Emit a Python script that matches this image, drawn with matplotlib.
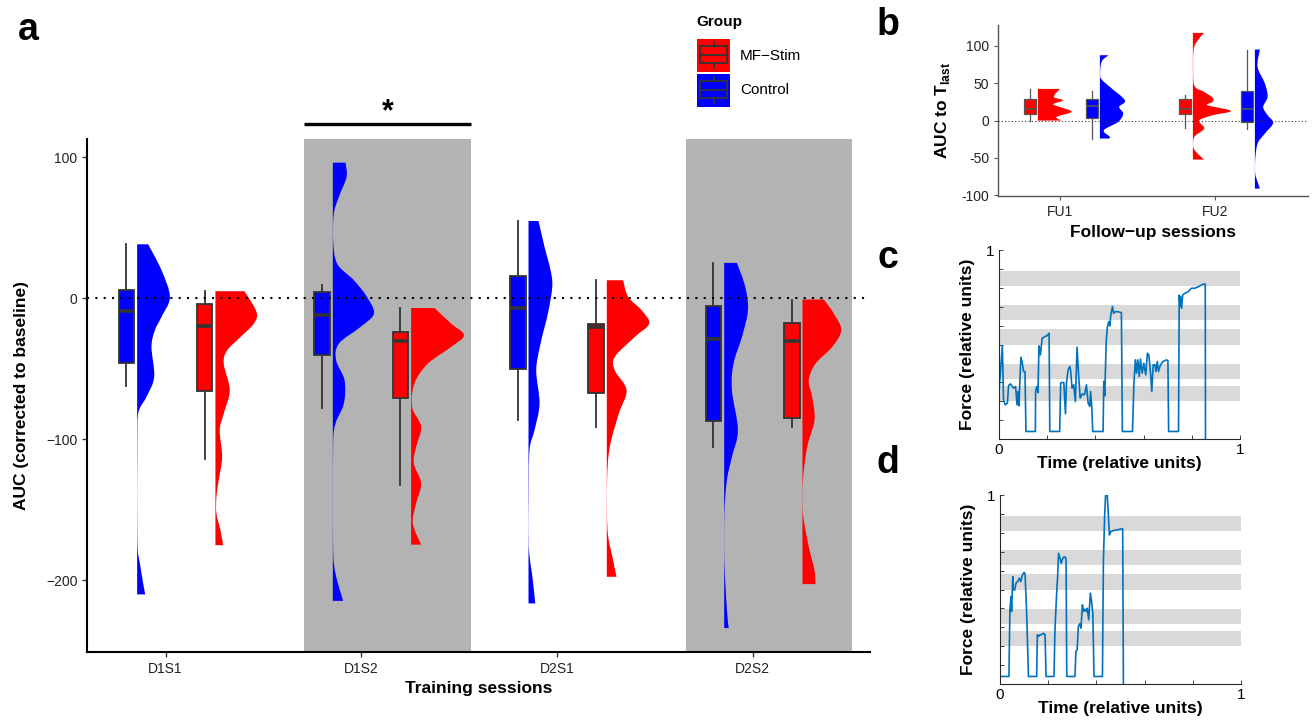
import numpy as np
import matplotlib
matplotlib.use('Agg')
import matplotlib.pyplot as plt
from matplotlib.patches import Rectangle, PathPatch
from matplotlib.path import Path

plt.rcParams['font.family'] = ['Liberation Sans', 'DejaVu Sans']
plt.rcParams['mathtext.fontset'] = 'custom'
plt.rcParams['mathtext.rm'] = 'Liberation Sans'
plt.rcParams['mathtext.bf'] = 'Liberation Sans:bold'

RED = '#ff0000'
BLUE = '#0000ff'
EDGE = '#333333'
SHADE = '#b3b3b3'
BAND = '#d9d9d9'
TRACE = '#0072bd'

# ---------------- panel a: training sessions ----------------
sessions = ['D1S1', 'D1S2', 'D2S1', 'D2S2']
shaded_sessions = ['D1S2', 'D2S2']

# box stats per session: whisker low, q1, median, q3, whisker high
ctrl_box = [[-62.4, -45.6, -9.0, 6.1, 38.3],
            [-77.5, -40.0, -12.0, 4.5, 9.2],
            [-86.5, -49.9, -6.6, 15.8, 54.8],
            [-105.4, -87.2, -28.6, -5.4, 25.1]]
stim_box = [[-113.7, -66.0, -19.4, -3.8, 5.0],
            [-132.2, -70.7, -30.3, -23.9, -6.9],
            [-91.2, -66.9, -20.3, -18.4, 12.8],
            [-91.2, -84.9, -30.3, -17.5, -0.9]]

# half-violin outlines: AUC value and density
ctrl_vy = [[38.3, 19.9, 0.9, -13.2, -22.7, -34.5, -55.8, -70.0, -81.8, -105.4, -171.6, -188.1, -210.1],
           [96.2, 86.0, 71.9, 60.1, 41.2, 24.6, 12.8, 1.0, -10.9, -20.3, -32.2, -44.0, -58.2, -74.7,
            -88.9, -105.4, -176.4, -195.3, -214.7],
           [54.8, 36.4, 19.9, 8.1, -10.9, -32.2, -51.1, -74.7, -93.6, -107.8, -140.9, -176.4, -200.0, -216.5],
           [25.1, 8.1, -8.5, -27.4, -46.3, -65.2, -93.6, -112.5, -129.0, -152.7, -188.1, -221.0, -234.0]]
ctrl_vd = [[11, 24.3, 32.7, 24.3, 17.7, 14.3, 17, 9.3, 1, 0.3, 0.3, 2.7, 8],
           [12.7, 13.7, 6, 1, 0.3, 4.3, 21, 34, 41, 27.7, 6, 3.3, 11.7, 11, 2.7, 0.3, 0.3, 2.7, 10.3],
           [10, 16, 22, 23.7, 19.3, 12, 7.7, 11, 6, 1, 0.3, 0.3, 4.3, 6.7],
           [12.7, 21, 23.7, 17.7, 9.3, 7.7, 13.7, 7.7, 2.7, 0.3, 0.3, 2.7, 4.5]]
stim_vy = [[5.0, -9.7, -18.0, -27.5, -37.0, -46.4, -65.2, -81.8, -93.6, -112.5, -129.0, -140.9, -152.7,
            -164.5, -175.2],
           [-6.9, -18.0, -26.2, -34.5, -46.4, -60.5, -77.1, -91.2, -105.4, -117.2, -131.4, -145.5, -159.7, -174.8],
           [12.8, 1.0, -8.5, -18.0, -27.4, -41.6, -51.1, -65.2, -81.8, -105.4, -129.0, -164.5, -185.8, -197.6],
           [-0.9, -10.9, -22.7, -34.5, -46.4, -58.2, -70.0, -86.5, -105.4, -129.0, -152.7, -176.4, -192.9, -202.8]]
stim_vd = [[29, 41, 38.3, 25, 11.7, 8.3, 14.3, 8.3, 4.3, 6.7, 3.3, 1, 1, 5, 7.7],
           [23.3, 40, 52.7, 40, 16.7, 3.3, 1, 10, 5, 2.7, 10, 5, 1.7, 10],
           [16.3, 21.3, 34.7, 42.3, 28, 8, 8, 19.7, 12, 3, 0.3, 0.7, 6.3, 9.7],
           [21.3, 31.3, 38.7, 29.7, 13, 6.3, 9.7, 12, 4.7, 0.5, 0.5, 6.3, 12, 13]]

# ---------------- panel b: follow-up sessions ----------------
followups = ['FU1', 'FU2']
fu_stim_box = [[0.0, 9.4, 15.2, 28.6, 42.4],
               [-9.4, 8.5, 15.2, 28.6, 33.9]]
fu_ctrl_box = [[-24.1, 4.0, 19.2, 28.6, 39.7],
               [-11.6, -1.3, 15.2, 39.3, 95.1]]
fu_stim_vy = [[42.4, 31.7, 27.2, 21.9, 17.4, 11.6, 4.9, 0.0],
              [117.4, 109.8, 94.2, 49.6, 38.4, 30.8, 25.0, 20.5, 12.9, 7.1, 0.0, -10.7, -21.9, -35.3,
               -44.2, -52.2]]
fu_stim_vd = [[22, 16, 25.3, 15.3, 23.7, 33.7, 18.7, 23.7],
              [11.3, 6.3, 0.7, 0.7, 11.3, 19.7, 19.7, 14.7, 38, 19.7, 6.3, 11.3, 1.3, 0.3, 4.7, 11.3]]
fu_ctrl_vy = [[87.5, 78.6, 58.5, 45.1, 27.2, 18.3, 9.4, -1.8, -12.9, -21.9, -24.1],
              [95.1, 71.9, 49.6, 31.7, 18.3, 7.1, -3.1, -17.4, -30.8, -53.1, -71.0, -82.1, -91.1]]
fu_ctrl_vd = [[8.7, 1.7, 0.3, 10, 25, 19.3, 23.3, 18.3, 4, 10, 8.7],
              [5, 2.7, 10, 12.7, 8.3, 12.7, 18.3, 10, 2.7, 0.3, 0.3, 2.7, 5]]

# ---------------- panels c, d: example force traces ----------------
target_lo = [0.199, 0.320, 0.500, 0.630, 0.812]
target_hi = [0.282, 0.398, 0.581, 0.710, 0.889]

c_time = [0, 0.014, 0.019, 0.026, 0.035, 0.040, 0.048, 0.055, 0.061, 0.069, 0.075, 0.079, 0.083, 0.087,
          0.091, 0.097, 0.102, 0.108, 0.112, 0.151, 0.152, 0.157, 0.162, 0.166, 0.172, 0.179, 0.190,
          0.199, 0.208, 0.211, 0.252, 0.256, 0.260, 0.269, 0.276, 0.280, 0.287, 0.294, 0.298, 0.303,
          0.310, 0.317, 0.324, 0.330, 0.337, 0.346, 0.355, 0.363, 0.370, 0.377, 0.380, 0.385, 0.389,
          0.432, 0.435, 0.439, 0.445, 0.450, 0.456, 0.460, 0.464, 0.471, 0.476, 0.483, 0.492, 0.508,
          0.512, 0.554, 0.560, 0.566, 0.571, 0.576, 0.582, 0.587, 0.594, 0.601, 0.609, 0.616, 0.622,
          0.629, 0.634, 0.640, 0.647, 0.651, 0.657, 0.662, 0.668, 0.675, 0.681, 0.695, 0.701, 0.704,
          0.745, 0.748, 0.751, 0.753, 0.758, 0.762, 0.771, 0.785, 0.799, 0.813, 0.827, 0.848, 0.856, 0.857]
c_force = [0.246, 0.493, 0.208, 0.181, 0.190, 0.283, 0.292, 0.278, 0.269, 0.278, 0.181, 0.252, 0.176, 0.313,
           0.433, 0.401, 0.357, 0.357, 0.040, 0.040, 0.252, 0.278, 0.246, 0.493, 0.445, 0.533, 0.542,
           0.546, 0.560, 0.040, 0.040, 0.296, 0.299, 0.299, 0.134, 0.296, 0.366, 0.384, 0.357, 0.269,
           0.287, 0.199, 0.486, 0.349, 0.217, 0.239, 0.234, 0.287, 0.190, 0.173, 0.252, 0.173, 0.040,
           0.040, 0.305, 0.229, 0.516, 0.595, 0.621, 0.599, 0.657, 0.701, 0.665, 0.674, 0.674, 0.669,
           0.040, 0.040, 0.296, 0.419, 0.349, 0.419, 0.331, 0.423, 0.349, 0.401, 0.340, 0.454, 0.445,
           0.349, 0.252, 0.393, 0.393, 0.357, 0.410, 0.357, 0.384, 0.401, 0.410, 0.419, 0.415, 0.040,
           0.040, 0.762, 0.701, 0.754, 0.692, 0.762, 0.771, 0.780, 0.798, 0.798, 0.806, 0.820, 0.820, 0.0]

d_time = [0, 0.037, 0.041, 0.046, 0.048, 0.053, 0.055, 0.061, 0.066, 0.073, 0.080, 0.086, 0.093, 0.097,
          0.100, 0.104, 0.111, 0.118, 0.152, 0.155, 0.160, 0.166, 0.173, 0.180, 0.187, 0.191, 0.224,
          0.228, 0.235, 0.239, 0.243, 0.249, 0.254, 0.260, 0.267, 0.274, 0.277, 0.311, 0.315, 0.320,
          0.325, 0.331, 0.336, 0.342, 0.346, 0.351, 0.357, 0.362, 0.368, 0.375, 0.380, 0.385, 0.390,
          0.425, 0.429, 0.434, 0.438, 0.445, 0.450, 0.454, 0.459, 0.470, 0.484, 0.498, 0.509, 0.512]
d_force = [0.040, 0.040, 0.393, 0.463, 0.384, 0.569, 0.498, 0.498, 0.533, 0.542, 0.560, 0.542, 0.577, 0.586,
           0.590, 0.583, 0.357, 0.040, 0.040, 0.261, 0.252, 0.261, 0.261, 0.269, 0.261, 0.040, 0.040,
           0.287, 0.481, 0.569, 0.692, 0.665, 0.639, 0.665, 0.674, 0.665, 0.040, 0.040, 0.173, 0.181,
           0.305, 0.319, 0.296, 0.419, 0.384, 0.396, 0.384, 0.401, 0.340, 0.481, 0.437, 0.375, 0.040,
           0.040, 0.648, 0.886, 1.0, 1.0, 0.886, 0.789, 0.806, 0.812, 0.815, 0.819, 0.822, 0.0]


def half_violin(ax, x0, vy, vd, dscale, color):
    # right edge drawn as a smooth curve (Catmull-Rom as Bezier) through the read knots
    pts = np.column_stack([x0 + np.array(vd) * dscale, np.array(vy, dtype=float)])
    ext = np.vstack([pts[0], pts, pts[-1]])
    verts = [(x0, pts[0, 1]), tuple(pts[0])]
    codes = [Path.MOVETO, Path.LINETO]
    for k in range(len(pts) - 1):
        p0, p1, p2, p3 = ext[k], ext[k + 1], ext[k + 2], ext[k + 3]
        c1 = p1 + (p2 - p0) / 6.0
        c2 = p2 - (p3 - p1) / 6.0
        c1[0] = max(c1[0], x0)
        c2[0] = max(c2[0], x0)
        verts += [tuple(c1), tuple(c2), tuple(p2)]
        codes += [Path.CURVE4] * 3
    verts += [(x0, pts[-1, 1]), (x0, pts[0, 1])]
    codes += [Path.LINETO, Path.CLOSEPOLY]
    ax.add_patch(PathPatch(Path(verts, codes), facecolor=color, edgecolor='none', zorder=3))


def raincloud(ax, pos, box, vy, vd, color, box_w, gap, dscale, edge, lw, med_lw):
    stats = [dict(whislo=box[0], q1=box[1], med=box[2], q3=box[3], whishi=box[4])]
    ax.bxp(stats, positions=[pos], widths=box_w, patch_artist=True, showcaps=False,
           showfliers=False, manage_ticks=False,
           boxprops=dict(facecolor=color, edgecolor=edge, linewidth=lw),
           whiskerprops=dict(color=edge, linewidth=lw),
           medianprops=dict(color=edge, linewidth=med_lw), zorder=3)
    half_violin(ax, pos + gap, vy, vd, dscale, color)


fig = plt.figure(figsize=(13.12, 7.24), dpi=100)

# ---- a ----
ax = fig.add_axes([0.0665, 0.0994, 0.5966, 0.7086])
xs = np.arange(1, len(sessions) + 1)
shade_offsets = {'D1S2': (-0.29, 0.56), 'D2S2': (-0.34, 0.51)}
for s in shaded_sessions:
    i = sessions.index(s) + 1
    lo, hi = shade_offsets[s]
    ax.axvspan(i + lo, i + hi, color=SHADE, lw=0, zorder=0)
for i, x in enumerate(xs):
    raincloud(ax, x - 0.2, ctrl_box[i], ctrl_vy[i], ctrl_vd[i], BLUE, 0.08, 0.055, 1 / 195.3, EDGE, 1.3, 2.6)
    raincloud(ax, x + 0.2, stim_box[i], stim_vy[i], stim_vd[i], RED, 0.08, 0.055, 1 / 195.3, EDGE, 1.3, 2.6)
ax.axhline(0, color='black', lw=1.5, ls=(0, (1, 3)), zorder=5)
ax.set_xlim(0.6, 4.6)
ax.set_ylim(-251, 113)
ax.set_xticks(xs)
ax.set_xticklabels(sessions)
ax.set_yticks([100, 0, -100, -200])
for sp in ['top', 'right']:
    ax.spines[sp].set_visible(False)
for sp in ['left', 'bottom']:
    ax.spines[sp].set_linewidth(1.5)
ax.tick_params(labelsize=10, length=3.5, width=1, color=EDGE, labelcolor='#222222')
ax.set_ylabel('AUC (corrected to baseline)', fontsize=12.5, fontweight='bold')
ax.set_xlabel('Training sessions', fontsize=12.5, fontweight='bold')
ax.yaxis.set_label_coords(-0.075, 0.5)
ax.xaxis.set_label_coords(0.5, -0.056)
# significance bar over D1S2
ax.plot([1.71, 2.56], [123.5, 123.5], color='black', lw=2.4, clip_on=False, solid_capstyle='butt')
ax.text(2.135, 126.5, '*', ha='center', va='baseline', fontsize=22, fontweight='bold', clip_on=False)

# ---- b ----
bx = fig.add_axes([0.7607, 0.7293, 0.2363, 0.2362])
fx = np.arange(1, len(followups) + 1)
for i, x in enumerate(fx):
    raincloud(bx, x - 0.195, fu_stim_box[i], fu_stim_vy[i], fu_stim_vd[i], RED, 0.077, 0.052, 1 / 155,
              '#555555', 0.9, 1.2)
    raincloud(bx, x + 0.205, fu_ctrl_box[i], fu_ctrl_vy[i], fu_ctrl_vd[i], BLUE, 0.077, 0.052, 1 / 155,
              '#555555', 0.9, 1.2)
bx.axhline(0, color='#333333', lw=0.8, ls=(0, (1, 2)), zorder=5)
bx.set_xlim(0.6, 2.6)
bx.set_ylim(-101, 128)
bx.set_xticks(fx)
bx.set_xticklabels(followups)
bx.set_yticks([100, 50, 0, -50, -100])
bx.set_yticklabels(['100', '50', '0', '-50', '-100'])
for sp in ['top', 'right']:
    bx.spines[sp].set_visible(False)
for sp in ['left', 'bottom']:
    bx.spines[sp].set_color('#555555')
    bx.spines[sp].set_linewidth(1.0)
bx.tick_params(labelsize=10, length=3, color='#555555', labelcolor='#222222')
bx.set_ylabel(r'AUC to T$_{\mathbf{last}}$', fontsize=12.5, fontweight='bold')
bx.set_xlabel('Follow\u2212up sessions', fontsize=12.5, fontweight='bold')
bx.yaxis.set_label_coords(-0.15, 0.5)
bx.xaxis.set_label_coords(0.5, -0.17)


# ---- c, d ----
def force_panel(rect, t, f):
    cx = fig.add_axes(rect)
    for lo, hi in zip(target_lo, target_hi):
        cx.axhspan(lo, hi, color=BAND, lw=0, zorder=0)
    cx.plot(t, f, color=TRACE, lw=1.2, zorder=2)
    cx.set_xlim(0, 1)
    cx.set_ylim(0, 1)
    cx.set_xticks(np.arange(0, 1.01, 0.2))
    cx.set_xticklabels(['0', '', '', '', '', '1'])
    cx.set_yticks(np.arange(0, 1.01, 0.1))
    cx.set_yticklabels([''] * 10 + ['1'])
    for sp in ['top', 'right']:
        cx.spines[sp].set_visible(False)
    for sp in ['left', 'bottom']:
        cx.spines[sp].set_color('#262626')
        cx.spines[sp].set_linewidth(0.8)
    cx.tick_params(direction='in', length=3, width=0.6, color='#262626', labelsize=11, pad=3)
    cx.set_ylabel('Force (relative units)', fontsize=12.5, fontweight='bold')
    cx.set_xlabel('Time (relative units)', fontsize=12.5, fontweight='bold')
    cx.yaxis.set_label_coords(-0.10, 0.5)
    cx.xaxis.set_label_coords(0.5, -0.09)
    return cx


force_panel([0.7614, 0.3936, 0.1837, 0.261], c_time, c_force)
force_panel([0.7622, 0.0552, 0.1837, 0.261], d_time, d_force)

# ---- overlay: panel letters and group legend (pixel coordinates) ----
ov = fig.add_axes([0, 0, 1, 1], zorder=10)
ov.set_xlim(0, 1312)
ov.set_ylim(724, 0)
ov.axis('off')
ov.patch.set_alpha(0)
for letter, (px, py) in zip('abcd', [(28, 30), (888, 25), (888, 258), (888, 463)]):
    ov.text(px, py, letter, fontsize=27, fontweight='bold', ha='center', va='center')

ov.text(696, 22, 'Group', fontsize=11, fontweight='bold', ha='left', va='center')
for label, color, top in [('MF\u2212Stim', RED, 39), ('Control', BLUE, 74)]:
    ov.add_patch(Rectangle((697, top), 33, 33, facecolor=color, edgecolor='none'))
    ov.add_patch(Rectangle((700, top + 7), 27, 17, facecolor='none', edgecolor=EDGE, lw=1.3))
    ov.plot([700, 727], [top + 15.5, top + 15.5], color=EDGE, lw=1.3)
    ov.plot([713.5, 713.5], [top + 3, top + 7], color=EDGE, lw=1.3)
    ov.plot([713.5, 713.5], [top + 24, top + 29], color=EDGE, lw=1.3)
    ov.text(740, top + 16.5, label, fontsize=11, ha='left', va='center')

fig.savefig('out.png', dpi=100)
